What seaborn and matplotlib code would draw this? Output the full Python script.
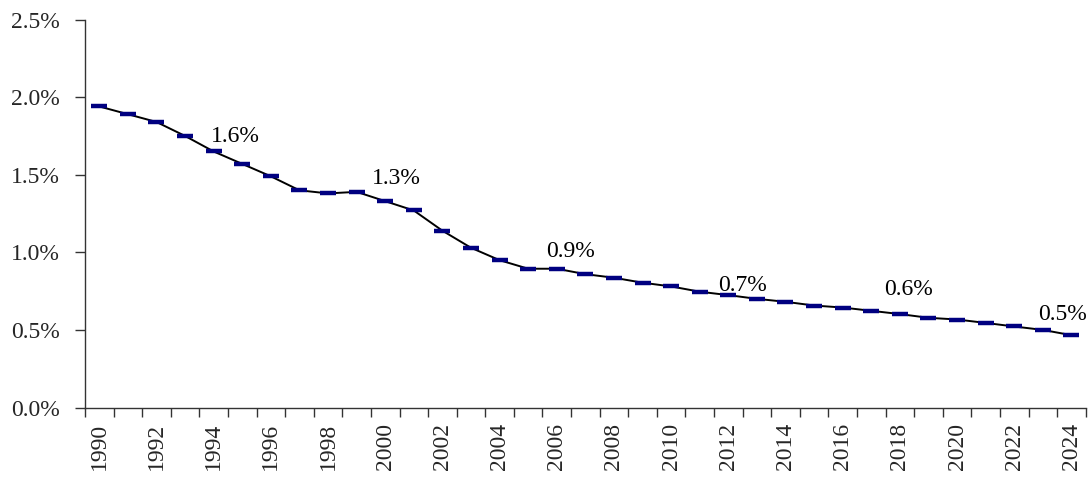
import numpy as np
import pandas as pd
import matplotlib
matplotlib.use("Agg")
import matplotlib.pyplot as plt
from matplotlib.ticker import FixedLocator, FuncFormatter
import seaborn as sns

# ── Data ─────────────────────────────────────────────────────────
YEARS = list(range(1990, 2025))
RATE = [1.94, 1.89, 1.84, 1.75, 1.65, 1.57, 1.49, 1.40, 1.38, 1.39,
        1.33, 1.27, 1.14, 1.03, 0.95, 0.895, 0.895, 0.86, 0.837, 0.805,
        0.781, 0.747, 0.725, 0.701, 0.682, 0.658, 0.645, 0.624, 0.603, 0.579,
        0.568, 0.546, 0.523, 0.501, 0.467]
LABEL_YEARS = [1994, 2000, 2006, 2012, 2018, 2024]
LABEL_TEXT = ["1.6%", "1.3%", "0.9%", "0.7%", "0.6%", "0.5%"]
Y_TICKS = [0.0, 0.5, 1.0, 1.5, 2.0, 2.5]

# label nudges (pixels) relative to the point
LABEL_OFFSETS = [(22, 9), (11, 17), (14, 12), (14, 4), (9, 19), (-9, 15)]

df = pd.DataFrame({"year": YEARS, "rate": RATE})

sns.set_style("ticks")
plt.rcParams["font.family"] = ["Liberation Serif", "DejaVu Serif"]

fig = plt.figure(figsize=(10.91, 4.79), dpi=100)
ax = fig.add_axes([85 / 1091, 1 - 407.7 / 479, 1000.7 / 1091, (407.7 - 19.5) / 479])

sns.lineplot(data=df, x="year", y="rate", ax=ax, color="black", linewidth=1.4,
             marker="_", markersize=11, markeredgewidth=3.2,
             markeredgecolor="#000080", markerfacecolor="#000080")

for yr, txt, (dx, dy) in zip(LABEL_YEARS, LABEL_TEXT, LABEL_OFFSETS):
    val = df.loc[df["year"] == yr, "rate"].values[0]
    ax.annotate(txt, xy=(yr, val), xytext=(dx, dy), textcoords="offset pixels",
                ha="center", va="baseline", fontsize=17, color="black")

ax.set_xlim(YEARS[0] - 0.5, YEARS[-1] + 0.5)
ax.set_ylim(0, 2.5)

# category boundaries carry the tick marks, labels sit at even years
ax.xaxis.set_major_locator(FixedLocator(np.arange(YEARS[0] - 0.5, YEARS[-1] + 1, 1)))
ax.xaxis.set_major_formatter(FuncFormatter(lambda v, p: ""))
ax.xaxis.set_minor_locator(FixedLocator([y for y in YEARS if y % 2 == 0]))
ax.xaxis.set_minor_formatter(FuncFormatter(lambda v, p: f"{int(round(v))}"))
ax.tick_params(axis="x", which="major", direction="out", length=6.5, width=1, color="#333333")
ax.tick_params(axis="x", which="minor", length=0, pad=11, labelsize=17, labelrotation=90)

ax.set_yticks(Y_TICKS)
ax.yaxis.set_major_formatter(FuncFormatter(lambda v, p: f"{v:.1f}%"))
ax.tick_params(axis="y", direction="out", length=7, width=1, color="#333333",
               labelsize=17, pad=11)

ax.set_xlabel("")
ax.set_ylabel("")
ax.spines[["top", "right"]].set_visible(False)
for s in ["left", "bottom"]:
    ax.spines[s].set_color("#333333")
    ax.spines[s].set_linewidth(1)

plt.savefig("out.png", dpi=100)
plt.close()
